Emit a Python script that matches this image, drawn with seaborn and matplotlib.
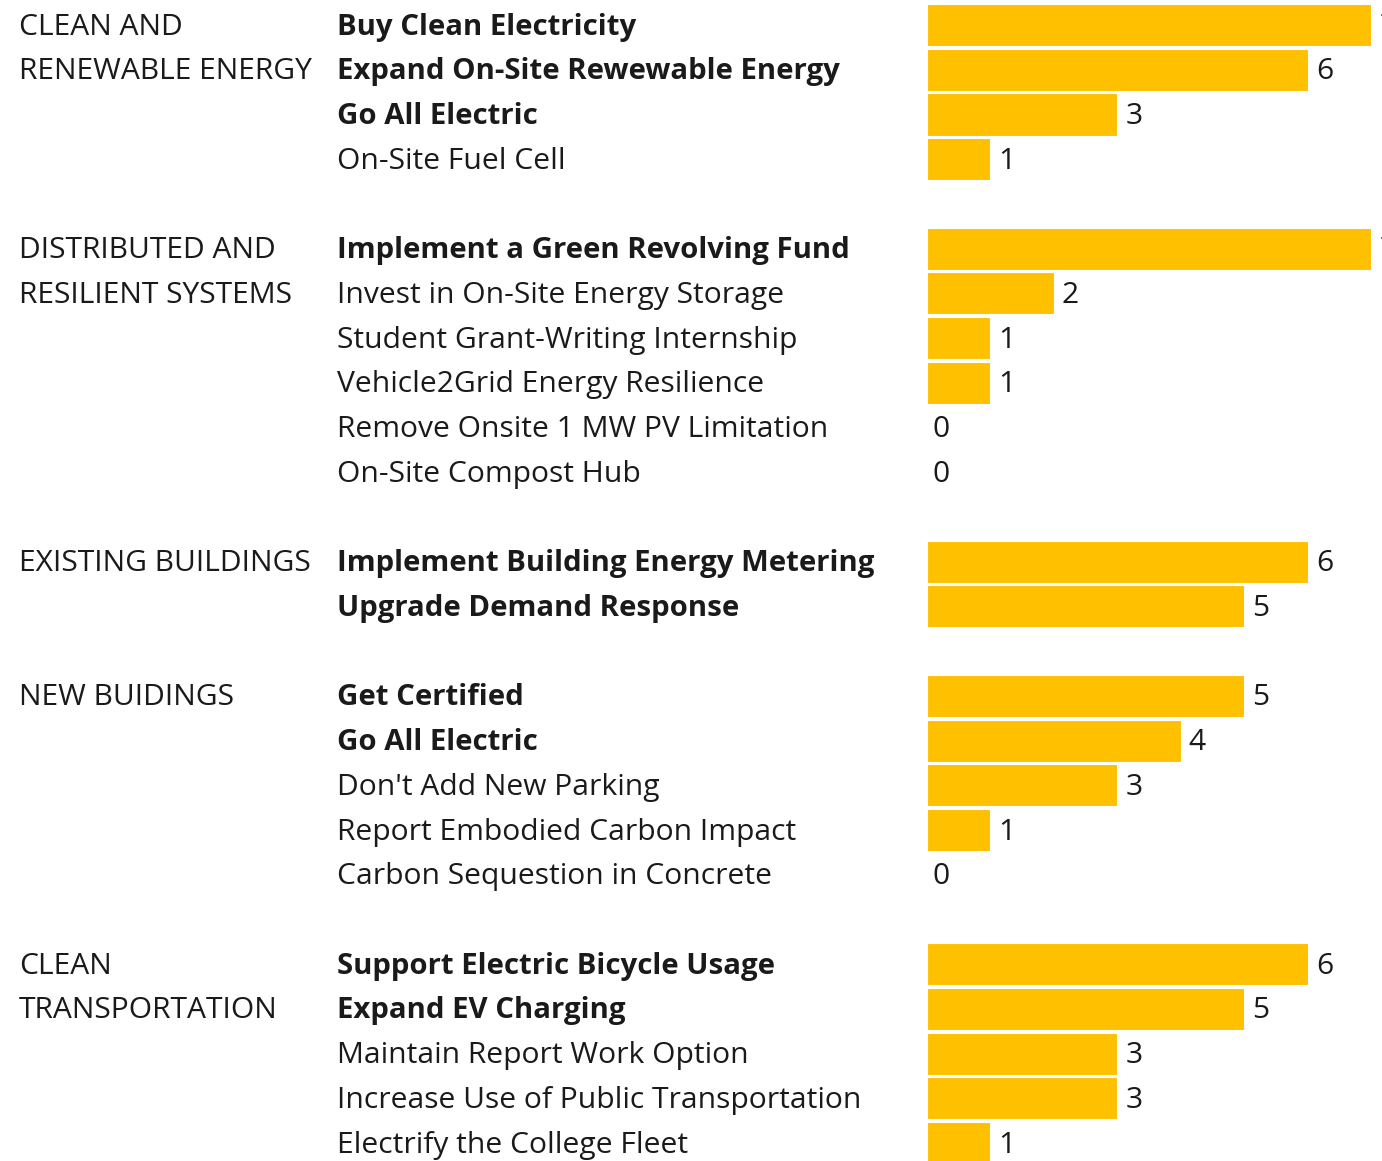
import pandas as pd
import matplotlib.pyplot as plt
import seaborn as sns

# groups, their actions and vote counts
groups = ["CLEAN AND\nRENEWABLE ENERGY",
          "DISTRIBUTED AND\nRESILIENT SYSTEMS",
          "EXISTING BUILDINGS",
          "NEW BUIDINGS",
          "CLEAN\nTRANSPORTATION"]

actions = [
    ["Buy Clean Electricity", "Expand On-Site Rewewable Energy", "Go All Electric", "On-Site Fuel Cell"],
    ["Implement a Green Revolving Fund", "Invest in On-Site Energy Storage", "Student Grant-Writing Internship",
     "Vehicle2Grid Energy Resilience", "Remove Onsite 1 MW PV Limitation", "On-Site Compost Hub"],
    ["Implement Building Energy Metering", "Upgrade Demand Response"],
    ["Get Certified", "Go All Electric", "Don't Add New Parking", "Report Embodied Carbon Impact",
     "Carbon Sequestion in Concrete"],
    ["Support Electric Bicycle Usage", "Expand EV Charging", "Maintain Report Work Option",
     "Increase Use of Public Transportation", "Electrify the College Fleet"],
]

votes = [
    [7, 6, 3, 1],
    [7, 2, 1, 1, 0, 0],
    [6, 5],
    [5, 4, 3, 1, 0],
    [6, 5, 3, 3, 1],
]

bold = [
    [True, True, True, False],
    [True, False, False, False, False, False],
    [True, True],
    [True, True, False, False, False],
    [True, True, False, False, False],
]

# build table with a blank spacer row between groups
rows = []
order = []
for g, (acts, vals, bl) in enumerate(zip(actions, votes, bold)):
    for i, (a, v, b) in enumerate(zip(acts, vals, bl)):
        key = f"{g}_{i}"
        rows.append({"key": key, "group": g, "action": a, "votes": v, "bold": b})
        order.append(key)
    if g < len(groups) - 1:
        order.append(f"gap{g}")
df = pd.DataFrame(rows)

fig = plt.figure(figsize=(13.82, 11.61), dpi=100)
ax = fig.add_axes([927 / 1382, 0, 1 - 927 / 1382, 1])

sns.barplot(data=df, x="votes", y="key", order=order, orient="h", color="#FFC000",
            saturation=1, width=0.94, edgecolor="white", linewidth=0.8, ax=ax)

ax.set_xlim(0, 7.17)
ax.set_ylim(25.40, -0.56)
ax.axis("off")

txt = "#1a1a1a"
fam = ["Open Sans", "DejaVu Sans"]
fs = 21.6
fs_bold = 21.2
pos = {k: i for i, k in enumerate(order)}
for _, r in df.iterrows():
    y = pos[r["key"]]
    ax.annotate(r["action"], xy=(0, y), xycoords="data", xytext=(-590, -2), textcoords="offset pixels",
                ha="left", va="center", fontsize=fs_bold if r["bold"] else fs, family=fam, color=txt,
                fontweight="bold" if r["bold"] else "normal", annotation_clip=False)
    off = 5 if r["votes"] == 0 else 8
    ax.annotate(str(r["votes"]), xy=(r["votes"], y), xycoords="data", xytext=(off, -2),
                textcoords="offset pixels", ha="left", va="center", fontsize=fs, family=fam,
                color=txt, annotation_clip=False)

# group names, one line per row
for g, name in enumerate(groups):
    first = pos[f"{g}_0"]
    for j, line in enumerate(name.split("\n")):
        ax.annotate(line, xy=(0, first + j), xycoords="data", xytext=(-908, -2), textcoords="offset pixels",
                    ha="left", va="center", fontsize=fs, family=fam, color=txt, annotation_clip=False)

fig.savefig("out.png", dpi=100)
